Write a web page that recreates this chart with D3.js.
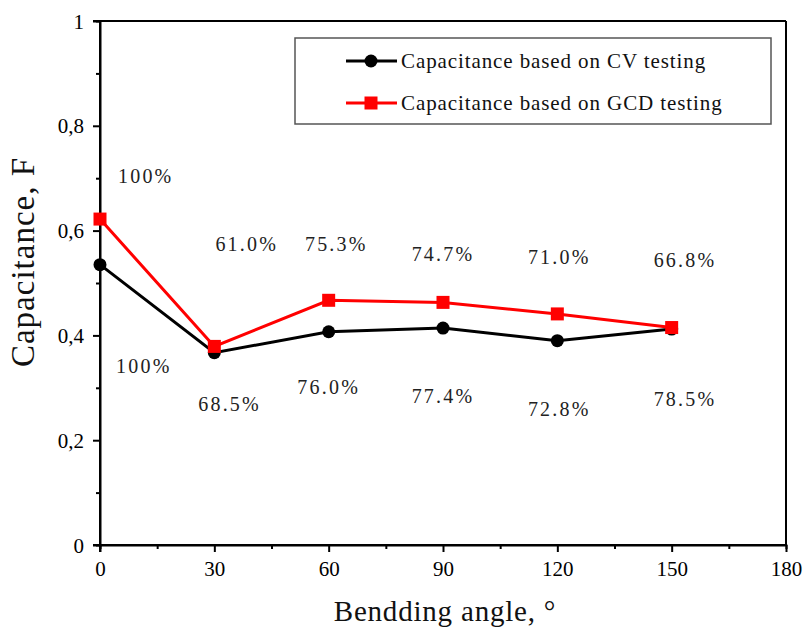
<!DOCTYPE html>
<html>
<head>
<meta charset="utf-8">
<script src="https://cdn.jsdelivr.net/npm/d3@7"></script>
<style>
  body { margin: 0; background: #fff; }
  text { font-family: "Liberation Serif", "Times New Roman", serif; }
</style>
</head>
<body>
<svg width="808" height="627"></svg>
<script>
// bending angles and capacitance values (F)
var angles = [0, 30, 60, 90, 120, 150];
var cvValues = [0.535, 0.367, 0.407, 0.414, 0.390, 0.412];
var gcdValues = [0.622, 0.379, 0.467, 0.463, 0.441, 0.415];

// retention labels, placed in data units (angle, F)
var cvLabels = ['100%', '68.5%', '76.0%', '77.4%', '72.8%', '78.5%'];
var cvLabelAt = [[11.5, 0.341], [34, 0.269], [60, 0.301], [90, 0.284], [120.5, 0.259], [153.5, 0.278]];
var gcdLabels = ['100%', '61.0%', '75.3%', '74.7%', '71.0%', '66.8%'];
var gcdLabelAt = [[12, 0.705], [38.5, 0.575], [62, 0.575], [90, 0.556], [120.5, 0.550], [153.5, 0.543]];

var xTicks = [0, 30, 60, 90, 120, 150, 180];
var yTicks = [0, 0.2, 0.4, 0.6, 0.8, 1];

var svg = d3.select('svg');

var scaleX = d3.scaleLinear().domain([0, 180]).range([100, 786]);
var scaleY = d3.scaleLinear().domain([0, 1]).range([545, 21]);

var commaFmt = function(d) { return String(d).replace('.', ','); };

// frame (top and right)
svg.append('line')
    .attr('x1', 93).attr('x2', scaleX(180))
    .attr('y1', scaleY(1)).attr('y2', scaleY(1))
    .attr('stroke', '#000').attr('stroke-width', 2);
svg.append('line')
    .attr('x1', scaleX(180)).attr('x2', scaleX(180))
    .attr('y1', scaleY(1)).attr('y2', scaleY(0))
    .attr('stroke', '#000').attr('stroke-width', 2);

// minor ticks
var xMinor = svg.append('g')
    .attr('transform', 'translate(0,' + scaleY(0) + ')')
    .call(d3.axisBottom(scaleX).tickValues(d3.range(15, 180, 30)).tickSize(4).tickFormat(''));
var yMinor = svg.append('g')
    .attr('transform', 'translate(' + scaleX(0) + ',0)')
    .call(d3.axisLeft(scaleY).tickValues(d3.range(0.1, 1, 0.2)).tickSize(4).tickFormat(''));

var xAxis = svg.append('g')
    .attr('transform', 'translate(0,' + scaleY(0) + ')')
    .call(d3.axisBottom(scaleX).tickValues(xTicks).tickSize(7).tickPadding(9).tickSizeOuter(0));

var yAxis = svg.append('g')
    .attr('transform', 'translate(' + scaleX(0) + ',0)')
    .call(d3.axisLeft(scaleY).tickValues(yTicks).tickSize(7).tickPadding(9).tickSizeOuter(0).tickFormat(commaFmt));

[xMinor, yMinor, xAxis, yAxis].forEach(function(g) {
    g.attr('font-family', null);
    g.selectAll('path').attr('stroke', '#000').attr('stroke-width', 2);
    g.selectAll('line').attr('stroke', '#000').attr('stroke-width', 2);
    g.selectAll('text')
        .attr('font-family', '"Liberation Serif", serif')
        .attr('font-size', 21)
        .attr('fill', '#000');
});
yAxis.selectAll('path').remove();
yAxis.append('line')
    .attr('x1', 0).attr('x2', 0)
    .attr('y1', scaleY(1)).attr('y2', scaleY(0) + 7)
    .attr('stroke', '#000').attr('stroke-width', 2);
xAxis.selectAll('path').remove();
xAxis.append('line')
    .attr('x1', scaleX(0) - 7).attr('x2', scaleX(180))
    .attr('y1', 0).attr('y2', 0)
    .attr('stroke', '#000').attr('stroke-width', 2);
yAxis.selectAll('text').attr('dy', '0.34em');

// axis titles
svg.append('text')
    .attr('x', 445)
    .attr('y', 621)
    .attr('text-anchor', 'middle')
    .attr('font-size', 29)
    .attr('letter-spacing', 0.8)
    .attr('fill', '#111')
    .text('Bendding angle, °');

svg.append('text')
    .attr('transform', 'translate(34,262) rotate(-90)')
    .attr('text-anchor', 'middle')
    .attr('font-size', 33)
    .attr('letter-spacing', 1)
    .attr('fill', '#111')
    .text('Capacitance, F');

// lines
var line = function(vals) {
    return d3.line()
        .x(function(d, i) { return scaleX(angles[i]); })
        .y(function(d) { return scaleY(d); })(vals);
};

svg.append('path')
    .attr('d', line(cvValues))
    .attr('fill', 'none')
    .attr('stroke', '#000')
    .attr('stroke-width', 3);

svg.selectAll('.cvDot')
    .data(cvValues)
    .enter()
    .append('circle')
    .attr('class', 'cvDot')
    .attr('cx', function(d, i) { return scaleX(angles[i]); })
    .attr('cy', function(d) { return scaleY(d); })
    .attr('r', 6.5)
    .attr('fill', '#000');

svg.append('path')
    .attr('d', line(gcdValues))
    .attr('fill', 'none')
    .attr('stroke', '#ff0000')
    .attr('stroke-width', 3);

svg.selectAll('.gcdDot')
    .data(gcdValues)
    .enter()
    .append('rect')
    .attr('class', 'gcdDot')
    .attr('x', function(d, i) { return scaleX(angles[i]) - 6.5; })
    .attr('y', function(d) { return scaleY(d) - 6.5; })
    .attr('width', 13)
    .attr('height', 13)
    .attr('fill', '#ff0000');

// percentage labels
function addLabels(labels, at) {
    svg.selectAll(null)
        .data(labels)
        .enter()
        .append('text')
        .attr('x', function(d, i) { return scaleX(at[i][0]); })
        .attr('y', function(d, i) { return scaleY(at[i][1]); })
        .attr('dy', '0.35em')
        .attr('text-anchor', 'middle')
        .attr('font-size', 20)
        .attr('letter-spacing', 2.2)
        .attr('fill', '#222')
        .text(function(d) { return d; });
}
addLabels(gcdLabels, gcdLabelAt);
addLabels(cvLabels, cvLabelAt);

// legend
var legend = svg.append('g');
legend.append('rect')
    .attr('x', 295).attr('y', 38)
    .attr('width', 476).attr('height', 86)
    .attr('fill', '#fff')
    .attr('stroke', '#555')
    .attr('stroke-width', 1.5);

var legendItems = [
    { name: 'Capacitance based on CV testing', color: '#000', shape: 'circle' },
    { name: 'Capacitance based on GCD testing', color: '#ff0000', shape: 'square' }
];

legendItems.forEach(function(item, i) {
    var y = 61 + i * 42;
    legend.append('line')
        .attr('x1', 346).attr('x2', 397)
        .attr('y1', y).attr('y2', y)
        .attr('stroke', item.color)
        .attr('stroke-width', 3);
    if (item.shape == 'circle') {
        legend.append('circle')
            .attr('cx', 371).attr('cy', y).attr('r', 6.5)
            .attr('fill', item.color);
    } else {
        legend.append('rect')
            .attr('x', 371 - 6.5).attr('y', y - 6.5)
            .attr('width', 13).attr('height', 13)
            .attr('fill', item.color);
    }
    legend.append('text')
        .attr('x', 401)
        .attr('y', y)
        .attr('dy', '0.32em')
        .attr('font-size', 21)
        .attr('letter-spacing', 0.9)
        .attr('fill', '#111')
        .text(item.name);
});
</script>
</body>
</html>
